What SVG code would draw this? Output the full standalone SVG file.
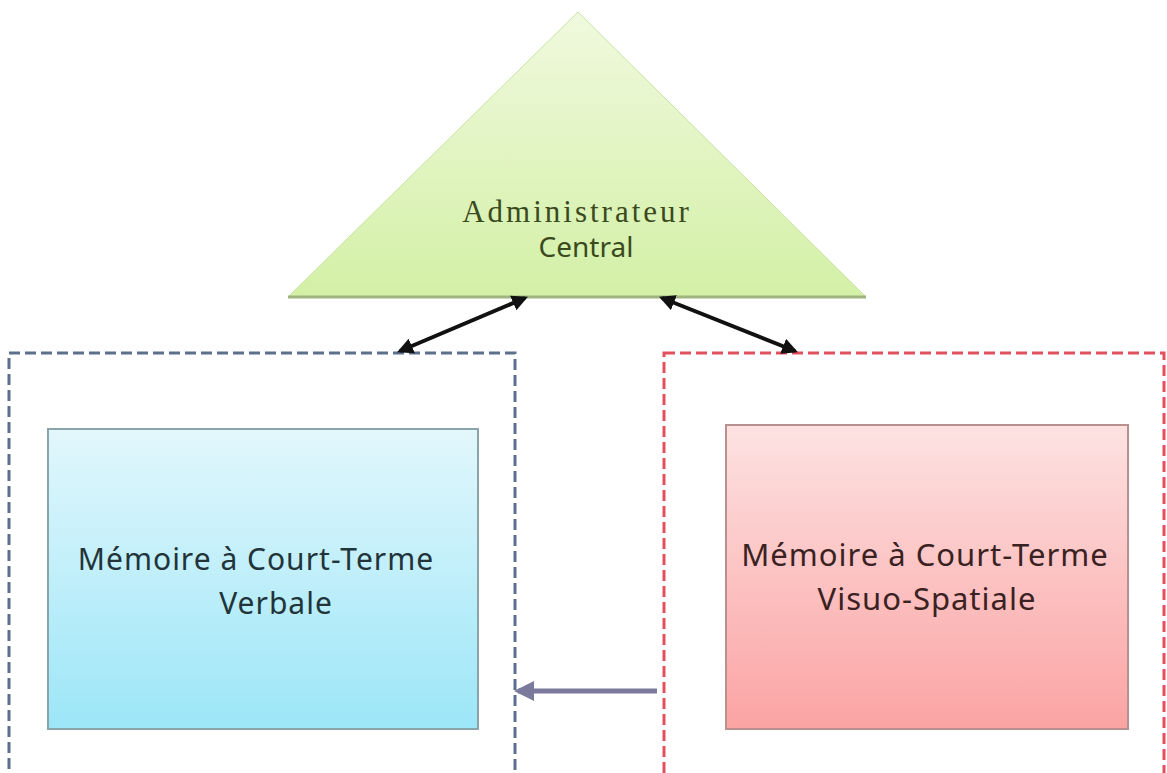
<svg xmlns="http://www.w3.org/2000/svg" width="1167" height="773" viewBox="0 0 1167 773">
<style>
.lbl{font-family:"Noto Sans","Liberation Sans",sans-serif;font-size:30px;letter-spacing:1px;text-anchor:middle}
.lblr{font-family:"Noto Sans","Liberation Sans",sans-serif;font-size:31px;letter-spacing:1px;text-anchor:middle}
.dash{fill:none;stroke-width:3;stroke-dasharray:11 5}
.conn{stroke:#111;stroke-width:4;fill:none}
</style>
<defs>
<linearGradient id="gTri" x1="0" y1="0" x2="0" y2="1">
<stop offset="0" stop-color="#f0f9de"/><stop offset="1" stop-color="#d3f0a6"/>
</linearGradient>
<linearGradient id="gBlue" x1="0" y1="0" x2="0" y2="1">
<stop offset="0" stop-color="#e2f7fc"/><stop offset="1" stop-color="#9ce6f8"/>
</linearGradient>
<linearGradient id="gPink" x1="0" y1="0" x2="0" y2="1">
<stop offset="0" stop-color="#fde2e2"/><stop offset="1" stop-color="#fba3a3"/>
</linearGradient>
<marker id="ah" viewBox="0 0 10 10" refX="8" refY="5" markerWidth="4" markerHeight="4" orient="auto-start-reverse">
<path d="M0,0 L10,5 L0,10 z" fill="#111"/>
</marker>
<marker id="ahg" viewBox="0 0 10 10" refX="8" refY="5" markerWidth="4" markerHeight="4" orient="auto">
<path d="M0,0 L10,5 L0,10 z" fill="#7c7a9c"/>
</marker>
</defs>
<rect width="1167" height="773" fill="#ffffff"/>

<g id="admin">
<polygon points="578,12 866,297 288,297" fill="url(#gTri)" stroke="#c8e3a0" stroke-width="1"/>
<line x1="288" y1="297" x2="866" y2="297" stroke="#9fb47e" stroke-width="3"/>
<text x="577" y="222" font-family="'Liberation Serif',serif" font-size="31" letter-spacing="3" text-anchor="middle" fill="#3a4a1e">Administrateur</text>
<text x="586" y="257" font-family="'Noto Sans','Liberation Sans',sans-serif" font-size="28" text-anchor="middle" fill="#3a4a1e">Central</text>
</g>

<g id="verbal">
<rect x="9" y="353" width="506" height="430" class="dash" stroke="#5c6f8c" fill="#fcfdfe"/>
<rect x="48" y="429" width="430" height="300" fill="url(#gBlue)" stroke="#8aa4ab" stroke-width="2"/>
<text x="256" y="570" class="lbl" fill="#22343a">Mémoire à Court-Terme</text>
<text x="276" y="614" class="lbl" fill="#22343a">Verbale</text>
</g>

<g id="visuo">
<rect x="664" y="353" width="500" height="430" class="dash" stroke="#e2505e" fill="#fffdfd"/>
<rect x="726" y="425" width="402" height="304" fill="url(#gPink)" stroke="#b89090" stroke-width="2"/>
<text x="925" y="566" class="lblr" fill="#3a2222">Mémoire à Court-Terme</text>
<text x="927" y="610" class="lblr" fill="#3a2222">Visuo-Spatiale</text>
</g>

<g id="connectors">
<line x1="400" y1="351" x2="525" y2="298" class="conn" marker-start="url(#ah)" marker-end="url(#ah)"/>
<line x1="662" y1="298" x2="795" y2="351" class="conn" marker-start="url(#ah)" marker-end="url(#ah)"/>
<line x1="657" y1="691" x2="518" y2="691" stroke="#7c7a9c" stroke-width="5" marker-end="url(#ahg)"/>
</g>
</svg>
